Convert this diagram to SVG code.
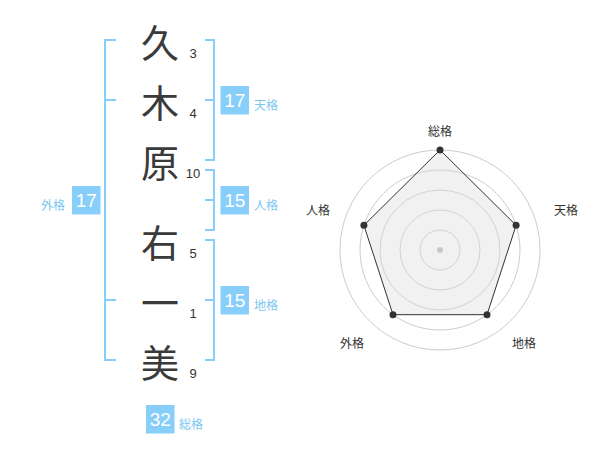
<svg xmlns="http://www.w3.org/2000/svg" width="600" height="470" viewBox="0 0 600 470">
<style>
.kanji{font-family:"Noto Sans CJK JP","Noto Sans CJK SC",sans-serif;font-size:38px;fill:#3a3a3a;text-anchor:middle;dominant-baseline:central}
.num{font-family:"Liberation Sans","Noto Sans",sans-serif;font-size:13px;fill:#333;text-anchor:middle}
.br{fill:none;stroke:#87cefa;stroke-width:2}
.box{fill:#87cefa}
.bn{font-family:"Liberation Sans","Noto Sans",sans-serif;font-size:19px;fill:#fff;text-anchor:middle;dominant-baseline:central}
.bl{font-family:"Noto Sans CJK JP",sans-serif;font-size:12px;fill:#7cc6f2;dominant-baseline:central}
.ring{fill:none;stroke:#cccccc;stroke-width:1}
.ax{font-family:"Noto Sans CJK JP",sans-serif;font-size:12px;fill:#333;text-anchor:middle;dominant-baseline:central}
.pt{fill:#333}
</style>
<g id="names">
<text class="kanji" x="160" y="40">久</text>
<text class="kanji" x="160" y="100">木</text>
<text class="kanji" x="160" y="160">原</text>
<text class="kanji" x="160" y="240">右</text>
<text class="kanji" x="160" y="300">一</text>
<text class="kanji" x="160" y="360">美</text>
</g>
<g id="strokes">
<text class="num" x="193" y="58">3</text>
<text class="num" x="193" y="118">4</text>
<text class="num" x="193" y="178">10</text>
<text class="num" x="193" y="258">5</text>
<text class="num" x="193" y="318">1</text>
<text class="num" x="193" y="378">9</text>
</g>
<g id="connectors">
<path class="br" d="M116,40 H105 V360 H116 M105,100 H116 M105,300 H116"/>
<path class="br" d="M205,40 H214 V160 H205 M205,100 H214"/>
<path class="br" d="M205,170 H214 V230 H205 M205,200 H214"/>
<path class="br" d="M205,240 H214 V360 H205 M205,300 H214"/>
</g>
<g id="gaikaku">
<rect class="box" x="72" y="186" width="28.5" height="28.5"/>
<text class="bn" x="86.3" y="200.5">17</text>
<text class="bl" x="41" y="204">外格</text>
</g>
<g id="tenkaku">
<rect class="box" x="220.5" y="86" width="28.5" height="28.5"/>
<text class="bn" x="234.8" y="100.5">17</text>
<text class="bl" x="254" y="104">天格</text>
</g>
<g id="jinkaku">
<rect class="box" x="220.5" y="186" width="28.5" height="28.5"/>
<text class="bn" x="234.8" y="200.5">15</text>
<text class="bl" x="254" y="204">人格</text>
</g>
<g id="chikaku">
<rect class="box" x="220.5" y="286" width="28.5" height="28.5"/>
<text class="bn" x="234.8" y="300.5">15</text>
<text class="bl" x="254" y="304">地格</text>
</g>
<g id="soukaku">
<rect class="box" x="146" y="405" width="28.5" height="28.5"/>
<text class="bn" x="160.3" y="419.5">32</text>
<text class="bl" x="179" y="423">総格</text>
</g>
<g id="radar">
<circle class="ring" cx="440" cy="250" r="20"/>
<circle class="ring" cx="440" cy="250" r="40"/>
<circle class="ring" cx="440" cy="250" r="60"/>
<circle class="ring" cx="440" cy="250" r="80"/>
<circle class="ring" cx="440" cy="250" r="100"/>
<polygon points="440,150 516.1,225.3 487,314.7 393,314.7 363.9,225.3" fill="#dddddd" fill-opacity="0.4" stroke="#333" stroke-width="1"/>
<circle cx="440" cy="250" r="3" fill="#c8c8c8"/>
<circle class="pt" cx="440" cy="150" r="3.5"/>
<circle class="pt" cx="516.1" cy="225.3" r="3.5"/>
<circle class="pt" cx="487" cy="314.7" r="3.5"/>
<circle class="pt" cx="393" cy="314.7" r="3.5"/>
<circle class="pt" cx="363.9" cy="225.3" r="3.5"/>
<text class="ax" x="440" y="130">総格</text>
<text class="ax" x="566" y="209">天格</text>
<text class="ax" x="524" y="342">地格</text>
<text class="ax" x="352" y="342">外格</text>
<text class="ax" x="318" y="209">人格</text>
</g>
</svg>
